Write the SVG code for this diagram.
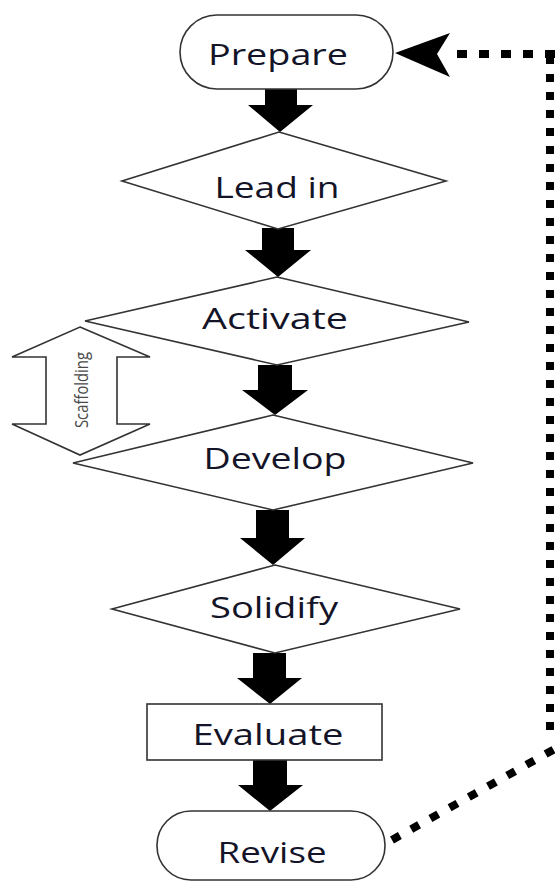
<svg xmlns="http://www.w3.org/2000/svg" width="555" height="883" viewBox="0 0 555 883">
<style>
.shape{fill:#fff;stroke:#333;stroke-width:1.6}
.lbl{font-family:"Open Sans","Noto Sans",sans-serif;font-size:30px;fill:#141428;text-anchor:middle}
.blk{fill:#000}
.dot{fill:none;stroke:#000;stroke-width:8}
.scaf{font-family:"Open Sans","Noto Sans",sans-serif;font-size:18px;fill:#4a4a4a;text-anchor:middle}
</style>
<rect width="555" height="883" fill="#fff"/>
<g id="connectors">
<polygon class="blk" points="265,89 297,89 297,105 313,105 280,132 248,105 265,105"/>
<polygon class="blk" points="262,228 294,228 294,250 311,250 278,277 245,250 262,250"/>
<polygon class="blk" points="258,365 292,365 292,390 308,390 275,415 242,390 258,390"/>
<polygon class="blk" points="256,510 289,510 289,538 305,538 273,565 240,538 256,538"/>
<polygon class="blk" points="253,653 286,653 286,678 302,678 270,704 237,678 253,678"/>
<polygon class="blk" points="253,760 287,760 287,785 303,785 270,811 238,785 253,785"/>
<path class="dot" d="M392 840 L560 746" stroke-dasharray="9 13"/>
<path class="dot" d="M550 730 L550 58" stroke-dasharray="8 10"/>
<path class="dot" d="M555 54 L445 54" stroke-dasharray="10 12"/>
<polygon class="blk" points="395,53 450,33 437,54 450,77"/>
</g>
<g id="prepare">
<rect class="shape" x="180" y="15" width="213" height="74" rx="37" ry="37"/>
<text class="lbl" x="278" y="65" textLength="140" lengthAdjust="spacingAndGlyphs">Prepare</text>
</g>
<g id="leadin">
<polygon class="shape" points="279,132 446,181 278,229 122,181"/>
<text class="lbl" x="277" y="198" textLength="125" lengthAdjust="spacingAndGlyphs">Lead in</text>
</g>
<g id="activate">
<polygon class="shape" points="277,277 469,322 277,365 85,321"/>
<text class="lbl" x="275" y="329" textLength="146" lengthAdjust="spacingAndGlyphs">Activate</text>
</g>
<g id="scaffolding">
<polygon class="shape" points="80,327 150,357 117,357 117,424 150,424 80,455 12,424 46,424 46,357 12,357"/>
<text class="scaf" x="88" y="390" transform="rotate(-90 88 390)" textLength="76" lengthAdjust="spacingAndGlyphs">Scaffolding</text>
</g>
<g id="develop">
<polygon class="shape" points="273,415 473,463 273,510 73,463"/>
<text class="lbl" x="275" y="469" textLength="143" lengthAdjust="spacingAndGlyphs">Develop</text>
</g>
<g id="solidify">
<polygon class="shape" points="275,565 460,609 275,653 112,609"/>
<text class="lbl" x="274" y="618" textLength="128" lengthAdjust="spacingAndGlyphs">Solidify</text>
</g>
<g id="evaluate">
<rect class="shape" x="147" y="704" width="235" height="56"/>
<text class="lbl" x="268" y="745" textLength="151" lengthAdjust="spacingAndGlyphs">Evaluate</text>
</g>
<g id="revise">
<rect class="shape" x="157" y="811" width="228" height="69" rx="34" ry="34"/>
<text class="lbl" x="272" y="863" textLength="109" lengthAdjust="spacingAndGlyphs">Revise</text>
</g>
</svg>
